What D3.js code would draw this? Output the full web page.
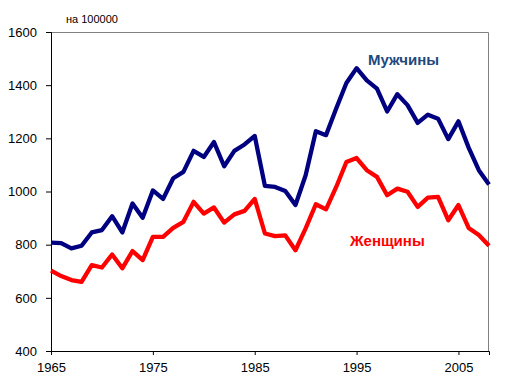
<!DOCTYPE html>
<html>
<head>
<meta charset="utf-8">
<script src="https://cdn.jsdelivr.net/npm/d3@7/dist/d3.min.js"></script>
<style>
  body { margin: 0; background: #fff; }
  svg { display: block; font-family: "Liberation Sans", Arial, sans-serif; }
</style>
</head>
<body>
<div id="chart"></div>
<script>
// Data (per 100000)
const years = d3.range(1965, 2009);
const men = [808, 806, 786, 796, 846, 855, 907, 846, 955, 901,
             1004, 972, 1050, 1074, 1153, 1130, 1186, 1095, 1153, 1177,
             1209, 1021, 1017, 1002, 949, 1061, 1227, 1212, 1312, 1408,
             1464, 1418, 1387, 1301, 1366, 1325, 1258, 1289, 1274, 1197,
             1264, 1165, 1080, 1026];
const women = [702, 682, 667, 660, 723, 714, 763, 711, 776, 742,
               829, 829, 863, 886, 961, 917, 940, 883, 914, 927,
               972, 842, 832, 835, 779, 861, 952, 933, 1017, 1111,
               1126, 1080, 1055, 986, 1011, 999, 942, 977, 980, 892,
               949, 863, 836, 796];
const xTicks = [1965, 1975, 1985, 1995, 2005];
const yTicks = [400, 600, 800, 1000, 1200, 1400, 1600];

const width = 513, height = 388;
const margin = { top: 32, right: 24, bottom: 37, left: 51 };
const innerWidth = width - margin.left - margin.right;
const innerHeight = height - margin.top - margin.bottom;

const svg = d3.select('#chart').append('svg')
    .attr('width', width)
    .attr('height', height);

const g = svg.append('g')
    .attr('transform', `translate(${margin.left},${margin.top})`);

const x = d3.scaleLinear().domain([1965, 2008]).range([0, innerWidth]);
const y = d3.scaleLinear().domain([400, 1600]).range([innerHeight, 0]);

// frame: top and right in grey
g.append('path')
    .attr('d', `M0,0.5H${innerWidth - 0.5}V${innerHeight}`)
    .attr('fill', 'none')
    .attr('stroke', '#808080')
    .attr('stroke-width', 1);

// axes
g.append('g')
    .attr('transform', `translate(0,${innerHeight})`)
    .call(d3.axisBottom(x).tickValues(xTicks).tickFormat(d3.format('d')).tickSizeOuter(0).tickSize(4).tickPadding(8))
    .call(a => a.selectAll('path, line').attr('stroke', '#000'))
    .call(a => a.selectAll('text').attr('fill', '#000').attr('font-size', 13).attr('font-family', '"Liberation Sans", Arial, sans-serif'));

g.append('g')
    .call(d3.axisLeft(y).tickValues(yTicks).tickFormat(d3.format('d')).tickSizeOuter(0).tickSize(5).tickPadding(9))
    .call(a => a.selectAll('path, line').attr('stroke', '#000'))
    .call(a => a.selectAll('text').attr('fill', '#000').attr('font-size', 13).attr('font-family', '"Liberation Sans", Arial, sans-serif'));

// lines
const line = d3.line()
    .x((d, i) => x(years[i]))
    .y(d => y(d));

g.append('path')
    .datum(women)
    .attr('d', line)
    .attr('fill', 'none')
    .attr('stroke', '#ff0000')
    .attr('stroke-width', 4.3)
    .attr('stroke-linejoin', 'round');

g.append('path')
    .datum(men)
    .attr('d', line)
    .attr('fill', 'none')
    .attr('stroke', '#000080')
    .attr('stroke-width', 4.3)
    .attr('stroke-linejoin', 'round');

// labels
svg.append('text')
    .attr('x', 66).attr('y', 23)
    .attr('font-size', 11)
    .attr('fill', '#000')
    .text('на 100000');

svg.append('text')
    .attr('x', 368).attr('y', 65)
    .attr('font-size', 15)
    .attr('font-weight', 'bold')
    .attr('fill', '#1f497d')
    .text('Мужчины');

svg.append('text')
    .attr('x', 350).attr('y', 246)
    .attr('font-size', 15)
    .attr('font-weight', 'bold')
    .attr('fill', '#ff0000')
    .text('Женщины');
</script>
</body>
</html>
